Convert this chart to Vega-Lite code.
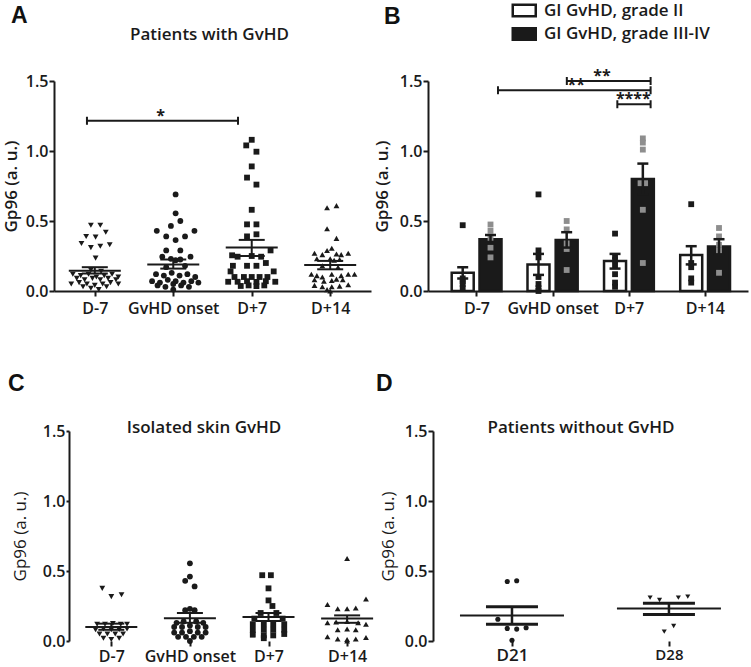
{
"$schema":"https://vega.github.io/schema/vega-lite/v6.json",
"padding":{"left":2,"top":2,"right":0,"bottom":0},
"background":"white",
"spacing":57,
"resolve":{"scale":{"x":"independent","y":"independent","shape":"independent","color":"independent","fill":"independent"}},
"config":{
 "view":{"stroke":null},
 "axis":{"grid":false,"domainColor":"#1a1a1a","domainWidth":2,"tickColor":"#1a1a1a","tickWidth":2,"tickSize":5,"labelFont":"Open Sans","labelFontSize":16,"labelFontWeight":600,"labelColor":"#1a1a1a","labelPadding":1,"labelFlush":false,"labelOverlap":false,"titleFont":"Open Sans","titleFontSize":17,"titleFontWeight":600,"titleColor":"#1a1a1a"},
 "title":{"font":"Liberation Sans","fontSize":23,"fontWeight":"bold","color":"#111111","anchor":"start","frame":"group","baseline":"alphabetic"}
},
"datasets":{
 "pts":[
  {"p":"A","g":0,"x":-0.05,"v":0.47},{"p":"A","g":0,"x":0.07,"v":0.47},{"p":"A","g":0,"x":-0.11,"v":0.39},{"p":"A","g":0,"x":0.01,"v":0.385},{"p":"A","g":0,"x":0.14,"v":0.42},{"p":"A","g":0,"x":-0.17,"v":0.34},{"p":"A","g":0,"x":-0.05,"v":0.31},{"p":"A","g":0,"x":0.07,"v":0.32},{"p":"A","g":0,"x":0.19,"v":0.33},{"p":"A","g":0,"x":0.01,"v":0.235},{"p":"A","g":0,"x":-0.05,"v":0.15},{"p":"A","g":0,"x":0.08,"v":0.14},
  {"p":"A","g":0,"x":-0.28,"v":0.12},{"p":"A","g":0,"x":-0.18,"v":0.11},{"p":"A","g":0,"x":-0.08,"v":0.12},{"p":"A","g":0,"x":0.02,"v":0.10},{"p":"A","g":0,"x":0.12,"v":0.11},{"p":"A","g":0,"x":0.22,"v":0.12},{"p":"A","g":0,"x":0.30,"v":0.10},
  {"p":"A","g":0,"x":-0.23,"v":0.09},{"p":"A","g":0,"x":-0.13,"v":0.08},{"p":"A","g":0,"x":-0.03,"v":0.09},{"p":"A","g":0,"x":0.07,"v":0.08},{"p":"A","g":0,"x":0.17,"v":0.09},{"p":"A","g":0,"x":0.27,"v":0.08},
  {"p":"A","g":0,"x":-0.3,"v":0.05},{"p":"A","g":0,"x":-0.2,"v":0.06},{"p":"A","g":0,"x":-0.1,"v":0.05},{"p":"A","g":0,"x":0,"v":0.04},{"p":"A","g":0,"x":0.1,"v":0.05},{"p":"A","g":0,"x":0.2,"v":0.06},{"p":"A","g":0,"x":0.3,"v":0.05},
  {"p":"A","g":0,"x":-0.15,"v":0.03},{"p":"A","g":0,"x":-0.05,"v":0.02},{"p":"A","g":0,"x":0.05,"v":0.01},{"p":"A","g":0,"x":0.15,"v":0.03},
  {"p":"A","g":1,"x":1.03,"v":0.69},{"p":"A","g":1,"x":1.03,"v":0.555},{"p":"A","g":1,"x":1.09,"v":0.5},{"p":"A","g":1,"x":0.97,"v":0.465},{"p":"A","g":1,"x":0.79,"v":0.43},{"p":"A","g":1,"x":1.27,"v":0.43},{"p":"A","g":1,"x":0.91,"v":0.39},{"p":"A","g":1,"x":1.15,"v":0.39},{"p":"A","g":1,"x":1.03,"v":0.364},{"p":"A","g":1,"x":0.91,"v":0.29},{"p":"A","g":1,"x":1.09,"v":0.29},{"p":"A","g":1,"x":0.86,"v":0.245},{"p":"A","g":1,"x":1.22,"v":0.245},{"p":"A","g":1,"x":0.97,"v":0.23},{"p":"A","g":1,"x":1.03,"v":0.22},{"p":"A","g":1,"x":1.09,"v":0.225},{"p":"A","g":1,"x":0.91,"v":0.17},{"p":"A","g":1,"x":1.15,"v":0.18},
  {"p":"A","g":1,"x":0.78,"v":0.12},{"p":"A","g":1,"x":0.88,"v":0.11},{"p":"A","g":1,"x":0.98,"v":0.13},{"p":"A","g":1,"x":1.08,"v":0.11},{"p":"A","g":1,"x":1.18,"v":0.12},{"p":"A","g":1,"x":1.28,"v":0.10},
  {"p":"A","g":1,"x":0.73,"v":0.07},{"p":"A","g":1,"x":0.83,"v":0.06},{"p":"A","g":1,"x":0.93,"v":0.08},{"p":"A","g":1,"x":1.03,"v":0.07},{"p":"A","g":1,"x":1.13,"v":0.06},{"p":"A","g":1,"x":1.23,"v":0.07},{"p":"A","g":1,"x":1.32,"v":0.06},
  {"p":"A","g":1,"x":0.8,"v":0.04},{"p":"A","g":1,"x":0.9,"v":0.03},{"p":"A","g":1,"x":1.0,"v":0.05},{"p":"A","g":1,"x":1.1,"v":0.04},{"p":"A","g":1,"x":1.2,"v":0.03},{"p":"A","g":1,"x":1.0,"v":0.01},
  {"p":"A","g":2,"x":2.0,"v":1.08},{"p":"A","g":2,"x":1.93,"v":1.04},{"p":"A","g":2,"x":2.06,"v":0.995},{"p":"A","g":2,"x":2.0,"v":0.89},{"p":"A","g":2,"x":1.94,"v":0.81},{"p":"A","g":2,"x":2.06,"v":0.76},{"p":"A","g":2,"x":2.0,"v":0.58},{"p":"A","g":2,"x":1.94,"v":0.476},{"p":"A","g":2,"x":2.06,"v":0.476},{"p":"A","g":2,"x":2.06,"v":0.405},{"p":"A","g":2,"x":1.94,"v":0.39},{"p":"A","g":2,"x":2.24,"v":0.29},{"p":"A","g":2,"x":1.75,"v":0.255},{"p":"A","g":2,"x":1.82,"v":0.245},{"p":"A","g":2,"x":2.0,"v":0.25},{"p":"A","g":2,"x":2.12,"v":0.245},{"p":"A","g":2,"x":1.76,"v":0.18},{"p":"A","g":2,"x":1.94,"v":0.18},{"p":"A","g":2,"x":2.06,"v":0.18},{"p":"A","g":2,"x":2.18,"v":0.2},{"p":"A","g":2,"x":1.73,"v":0.14},{"p":"A","g":2,"x":2.28,"v":0.14},
  {"p":"A","g":2,"x":1.78,"v":0.1},{"p":"A","g":2,"x":1.9,"v":0.1},{"p":"A","g":2,"x":2.0,"v":0.1},{"p":"A","g":2,"x":2.1,"v":0.1},{"p":"A","g":2,"x":2.2,"v":0.1},
  {"p":"A","g":2,"x":1.7,"v":0.066},{"p":"A","g":2,"x":1.82,"v":0.066},{"p":"A","g":2,"x":1.94,"v":0.07},{"p":"A","g":2,"x":2.06,"v":0.065},{"p":"A","g":2,"x":2.18,"v":0.07},{"p":"A","g":2,"x":2.3,"v":0.066},
  {"p":"A","g":2,"x":1.86,"v":0.036},{"p":"A","g":2,"x":1.96,"v":0.04},{"p":"A","g":2,"x":2.06,"v":0.035},{"p":"A","g":2,"x":2.16,"v":0.04},
  {"p":"A","g":3,"x":2.96,"v":0.595},{"p":"A","g":3,"x":3.08,"v":0.61},{"p":"A","g":3,"x":2.96,"v":0.445},{"p":"A","g":3,"x":3.08,"v":0.376},{"p":"A","g":3,"x":3.02,"v":0.305},{"p":"A","g":3,"x":2.96,"v":0.29},
  {"p":"A","g":3,"x":2.8,"v":0.27},{"p":"A","g":3,"x":2.9,"v":0.26},{"p":"A","g":3,"x":3.08,"v":0.265},{"p":"A","g":3,"x":3.14,"v":0.26},{"p":"A","g":3,"x":3.23,"v":0.27},
  {"p":"A","g":3,"x":2.83,"v":0.23},{"p":"A","g":3,"x":3.0,"v":0.23},{"p":"A","g":3,"x":3.05,"v":0.22},{"p":"A","g":3,"x":3.12,"v":0.225},{"p":"A","g":3,"x":2.9,"v":0.18},{"p":"A","g":3,"x":3.1,"v":0.17},
  {"p":"A","g":3,"x":2.76,"v":0.12},{"p":"A","g":3,"x":2.83,"v":0.11},{"p":"A","g":3,"x":2.9,"v":0.1},{"p":"A","g":3,"x":3.02,"v":0.12},{"p":"A","g":3,"x":3.14,"v":0.11},{"p":"A","g":3,"x":3.23,"v":0.12},{"p":"A","g":3,"x":3.31,"v":0.12},
  {"p":"A","g":3,"x":2.8,"v":0.08},{"p":"A","g":3,"x":2.92,"v":0.07},{"p":"A","g":3,"x":3.02,"v":0.075},{"p":"A","g":3,"x":3.08,"v":0.085},{"p":"A","g":3,"x":3.16,"v":0.08},
  {"p":"A","g":3,"x":2.8,"v":0.04},{"p":"A","g":3,"x":2.9,"v":0.03},{"p":"A","g":3,"x":3.02,"v":0.03},{"p":"A","g":3,"x":3.12,"v":0.035},{"p":"A","g":3,"x":3.23,"v":0.045},{"p":"A","g":3,"x":2.96,"v":0.01},{"p":"A","g":3,"x":3.0,"v":0.0},

  {"p":"C","g":0,"x":-0.115,"v":0.376},{"p":"C","g":0,"x":0,"v":0.317},{"p":"C","g":0,"x":0.13,"v":0.33},
  {"p":"C","g":0,"x":-0.18,"v":0.12},{"p":"C","g":0,"x":-0.08,"v":0.12},{"p":"C","g":0,"x":0.02,"v":0.125},{"p":"C","g":0,"x":0.12,"v":0.12},{"p":"C","g":0,"x":0.2,"v":0.12},
  {"p":"C","g":0,"x":-0.2,"v":0.08},{"p":"C","g":0,"x":-0.1,"v":0.085},{"p":"C","g":0,"x":0,"v":0.08},{"p":"C","g":0,"x":0.1,"v":0.08},{"p":"C","g":0,"x":0.2,"v":0.085},
  {"p":"C","g":0,"x":-0.15,"v":0.05},{"p":"C","g":0,"x":-0.05,"v":0.05},{"p":"C","g":0,"x":0.05,"v":0.05},{"p":"C","g":0,"x":0.15,"v":0.05},
  {"p":"C","g":0,"x":-0.1,"v":0.02},{"p":"C","g":0,"x":0,"v":0.01},{"p":"C","g":0,"x":0.1,"v":0.02},
  {"p":"C","g":1,"x":1.0,"v":0.555},{"p":"C","g":1,"x":0.94,"v":0.43},{"p":"C","g":1,"x":1.0,"v":0.46},{"p":"C","g":1,"x":1.06,"v":0.39},{"p":"C","g":1,"x":0.94,"v":0.22},{"p":"C","g":1,"x":1.0,"v":0.23},{"p":"C","g":1,"x":1.06,"v":0.22},
  {"p":"C","g":1,"x":0.83,"v":0.13},{"p":"C","g":1,"x":0.92,"v":0.14},{"p":"C","g":1,"x":1.08,"v":0.14},{"p":"C","g":1,"x":1.17,"v":0.13},
  {"p":"C","g":1,"x":0.8,"v":0.1},{"p":"C","g":1,"x":0.9,"v":0.1},{"p":"C","g":1,"x":1.0,"v":0.11},{"p":"C","g":1,"x":1.1,"v":0.1},{"p":"C","g":1,"x":1.2,"v":0.1},
  {"p":"C","g":1,"x":0.8,"v":0.06},{"p":"C","g":1,"x":0.9,"v":0.06},{"p":"C","g":1,"x":1.0,"v":0.07},{"p":"C","g":1,"x":1.1,"v":0.06},{"p":"C","g":1,"x":1.2,"v":0.06},
  {"p":"C","g":1,"x":0.85,"v":0.03},{"p":"C","g":1,"x":0.95,"v":0.03},{"p":"C","g":1,"x":1.05,"v":0.03},{"p":"C","g":1,"x":1.15,"v":0.03},{"p":"C","g":1,"x":1.0,"v":0.0},
  {"p":"C","g":2,"x":1.92,"v":0.47},{"p":"C","g":2,"x":2.03,"v":0.47},{"p":"C","g":2,"x":2.0,"v":0.376},{"p":"C","g":2,"x":2.0,"v":0.29},{"p":"C","g":2,"x":2.05,"v":0.25},
  {"p":"C","g":2,"x":1.9,"v":0.2},{"p":"C","g":2,"x":2.1,"v":0.2},{"p":"C","g":2,"x":1.82,"v":0.16},{"p":"C","g":2,"x":2.18,"v":0.16},
  {"p":"C","g":2,"x":1.8,"v":0.12},{"p":"C","g":2,"x":1.94,"v":0.12},{"p":"C","g":2,"x":2.06,"v":0.12},{"p":"C","g":2,"x":2.2,"v":0.12},
  {"p":"C","g":2,"x":1.8,"v":0.08},{"p":"C","g":2,"x":1.94,"v":0.08},{"p":"C","g":2,"x":2.06,"v":0.08},{"p":"C","g":2,"x":2.2,"v":0.08},
  {"p":"C","g":2,"x":1.8,"v":0.045},{"p":"C","g":2,"x":1.94,"v":0.04},{"p":"C","g":2,"x":2.06,"v":0.04},{"p":"C","g":2,"x":2.2,"v":0.05},{"p":"C","g":2,"x":1.94,"v":0.02},
  {"p":"C","g":3,"x":3.0,"v":0.59},{"p":"C","g":3,"x":2.75,"v":0.26},{"p":"C","g":3,"x":3.24,"v":0.3},{"p":"C","g":3,"x":2.88,"v":0.23},{"p":"C","g":3,"x":3.0,"v":0.23},{"p":"C","g":3,"x":3.11,"v":0.235},
  {"p":"C","g":3,"x":2.75,"v":0.13},{"p":"C","g":3,"x":2.86,"v":0.135},{"p":"C","g":3,"x":3.0,"v":0.14},{"p":"C","g":3,"x":3.14,"v":0.13},{"p":"C","g":3,"x":3.24,"v":0.12},
  {"p":"C","g":3,"x":2.88,"v":0.08},{"p":"C","g":3,"x":3.0,"v":0.085},{"p":"C","g":3,"x":3.11,"v":0.08},
  {"p":"C","g":3,"x":2.75,"v":0.03},{"p":"C","g":3,"x":2.88,"v":0.015},{"p":"C","g":3,"x":3.0,"v":0.01},{"p":"C","g":3,"x":3.11,"v":0.015},{"p":"C","g":3,"x":3.24,"v":0.025},{"p":"C","g":3,"x":3.0,"v":0.0},

  {"p":"D","g":0,"x":-0.03,"v":0.425},{"p":"D","g":0,"x":0.03,"v":0.43},{"p":"D","g":0,"x":-0.09,"v":0.155},{"p":"D","g":0,"x":-0.03,"v":0.09},{"p":"D","g":0,"x":0.03,"v":0.085},{"p":"D","g":0,"x":0.09,"v":0.095},{"p":"D","g":0,"x":0,"v":0.005},
  {"p":"D","g":1,"x":0.88,"v":0.31},{"p":"D","g":1,"x":0.94,"v":0.293},{"p":"D","g":1,"x":1.06,"v":0.31},{"p":"D","g":1,"x":1.12,"v":0.317},{"p":"D","g":1,"x":0.97,"v":0.067},{"p":"D","g":1,"x":1.03,"v":0.107},

  {"p":"B","s":"GI GvHD, grade II","x":-0.18,"v":0.47},{"p":"B","s":"GI GvHD, grade II","x":-0.18,"v":0.09},{"p":"B","s":"GI GvHD, grade II","x":-0.18,"v":0.07},{"p":"B","s":"GI GvHD, grade II","x":-0.18,"v":0.05},{"p":"B","s":"GI GvHD, grade II","x":-0.18,"v":0.02},
  {"p":"B","s":"GI GvHD, grade III-IV","x":0.185,"v":0.475},{"p":"B","s":"GI GvHD, grade III-IV","x":0.185,"v":0.43},{"p":"B","s":"GI GvHD, grade III-IV","x":0.185,"v":0.38},{"p":"B","s":"GI GvHD, grade III-IV","x":0.185,"v":0.31},{"p":"B","s":"GI GvHD, grade III-IV","x":0.185,"v":0.24},
  {"p":"B","s":"GI GvHD, grade II","x":0.815,"v":0.69},{"p":"B","s":"GI GvHD, grade II","x":0.815,"v":0.29},{"p":"B","s":"GI GvHD, grade II","x":0.815,"v":0.24},{"p":"B","s":"GI GvHD, grade II","x":0.815,"v":0.1},{"p":"B","s":"GI GvHD, grade II","x":0.815,"v":0.05},{"p":"B","s":"GI GvHD, grade II","x":0.815,"v":0.02},{"p":"B","s":"GI GvHD, grade II","x":0.815,"v":0.0},
  {"p":"B","s":"GI GvHD, grade III-IV","x":1.185,"v":0.5},{"p":"B","s":"GI GvHD, grade III-IV","x":1.185,"v":0.44},{"p":"B","s":"GI GvHD, grade III-IV","x":1.185,"v":0.34},{"p":"B","s":"GI GvHD, grade III-IV","x":1.185,"v":0.3},{"p":"B","s":"GI GvHD, grade III-IV","x":1.185,"v":0.15},
  {"p":"B","s":"GI GvHD, grade II","x":1.82,"v":0.41},{"p":"B","s":"GI GvHD, grade II","x":1.82,"v":0.25},{"p":"B","s":"GI GvHD, grade II","x":1.82,"v":0.22},{"p":"B","s":"GI GvHD, grade II","x":1.82,"v":0.18},{"p":"B","s":"GI GvHD, grade II","x":1.82,"v":0.12},{"p":"B","s":"GI GvHD, grade II","x":1.82,"v":0.06},{"p":"B","s":"GI GvHD, grade II","x":1.82,"v":0.03},
  {"p":"B","s":"GI GvHD, grade III-IV","x":2.185,"v":1.09},{"p":"B","s":"GI GvHD, grade III-IV","x":2.185,"v":1.06},{"p":"B","s":"GI GvHD, grade III-IV","x":2.185,"v":1.01},{"p":"B","s":"GI GvHD, grade III-IV","x":2.155,"v":0.77},{"p":"B","s":"GI GvHD, grade III-IV","x":2.215,"v":0.77},{"p":"B","s":"GI GvHD, grade III-IV","x":2.185,"v":0.58},{"p":"B","s":"GI GvHD, grade III-IV","x":2.185,"v":0.2},
  {"p":"B","s":"GI GvHD, grade II","x":2.82,"v":0.62},{"p":"B","s":"GI GvHD, grade II","x":2.82,"v":0.2},{"p":"B","s":"GI GvHD, grade II","x":2.82,"v":0.17},{"p":"B","s":"GI GvHD, grade II","x":2.82,"v":0.09},{"p":"B","s":"GI GvHD, grade II","x":2.82,"v":0.06},
  {"p":"B","s":"GI GvHD, grade III-IV","x":3.185,"v":0.45},{"p":"B","s":"GI GvHD, grade III-IV","x":3.185,"v":0.39},{"p":"B","s":"GI GvHD, grade III-IV","x":3.185,"v":0.33},{"p":"B","s":"GI GvHD, grade III-IV","x":3.185,"v":0.29},{"p":"B","s":"GI GvHD, grade III-IV","x":3.185,"v":0.13}
 ],
 "sum":[
  {"p":"A","c":0,"m":0.145,"lo":0.125,"hi":0.17},{"p":"A","c":1,"m":0.19,"lo":0.16,"hi":0.225},{"p":"A","c":2,"m":0.31,"lo":0.25,"hi":0.365},{"p":"A","c":3,"m":0.185,"lo":0.155,"hi":0.215},
  {"p":"C","c":0,"m":0.1,"lo":0.08,"hi":0.124},{"p":"C","c":1,"m":0.162,"lo":0.13,"hi":0.2},{"p":"C","c":2,"m":0.171,"lo":0.143,"hi":0.2},{"p":"C","c":3,"m":0.16,"lo":0.13,"hi":0.183},
  {"p":"D","c":0,"m":0.183,"lo":0.12,"hi":0.245},{"p":"D","c":1,"m":0.233,"lo":0.19,"hi":0.27},
  {"p":"B","s":"GI GvHD, grade II","c":-0.18,"m":0.13,"lo":0.09,"hi":0.17},{"p":"B","s":"GI GvHD, grade III-IV","c":0.185,"m":0.37,"lo":0.34,"hi":0.40},
  {"p":"B","s":"GI GvHD, grade II","c":0.815,"m":0.19,"lo":0.115,"hi":0.265},{"p":"B","s":"GI GvHD, grade III-IV","c":1.185,"m":0.364,"lo":0.31,"hi":0.42},
  {"p":"B","s":"GI GvHD, grade II","c":1.82,"m":0.214,"lo":0.16,"hi":0.265},{"p":"B","s":"GI GvHD, grade III-IV","c":2.185,"m":0.80,"lo":0.69,"hi":0.91},
  {"p":"B","s":"GI GvHD, grade II","c":2.82,"m":0.257,"lo":0.19,"hi":0.32},{"p":"B","s":"GI GvHD, grade III-IV","c":3.185,"m":0.317,"lo":0.26,"hi":0.37}
 ],
 "brk":[
  {"p":"A","x1":-0.1,"x2":1.825,"y":1.216,"lx":0.84,"lab":"*"},
  {"p":"B","x1":1.187,"x2":2.287,"y":1.5,"lx":1.65,"lab":"**"},
  {"p":"B","x1":0.283,"x2":2.287,"y":1.434,"lx":1.31,"lab":"**"},
  {"p":"B","x1":1.85,"x2":2.287,"y":1.334,"lx":2.06,"lab":"****"}
 ]
},
"vconcat":[
 {"hconcat":[
  {"width":317,"height":210,
   "title":{"text":"A","dx":-43,"offset":-3},
   "resolve":{"axis":{"x":"independent","y":"independent"}},
   "layer":[
    {"data":{"name":"pts"},"transform":[{"filter":"datum.p==='A'"}],
     "mark":{"type":"point","filled":true,"size":34,"opacity":1,"color":"#1a1a1a"},
     "encoding":{
      "x":{"field":"x","type":"quantitative","scale":{"domain":[-0.52,3.52],"nice":false,"zero":false},"axis":{"orient":"bottom","values":[0,1,2,3],"labelExpr":"['D-7','GvHD onset','D+7','D+14'][datum.value]","title":null,"labelPadding":4}},
      "y":{"field":"v","type":"quantitative","scale":{"domain":[0,1.5],"nice":false,"zero":false},"axis":{"orient":"left","values":[0,0.5,1,1.5],"format":".1f","title":"Gp96 (a. u.)","titlePadding":5}},
      "shape":{"field":"g","type":"nominal","scale":{"domain":[0,1,2,3],"range":["triangle-down","circle","square","triangle-up"]},"legend":null}}},
    {"data":{"name":"sum"},"transform":[{"filter":"datum.p==='A'"}],
     "mark":{"type":"rule","color":"#1a1a1a","strokeWidth":2},
     "encoding":{"x":{"field":"c","type":"quantitative","scale":{"domain":[-0.52,3.52],"nice":false,"zero":false},"axis":null},"y":{"field":"lo","type":"quantitative","scale":{"domain":[0,1.5],"nice":false,"zero":false},"axis":null},"y2":{"field":"hi"}}},
    {"data":{"name":"sum"},"transform":[{"filter":"datum.p==='A'"},{"fold":["lo","hi"],"as":["k","e"]}],
     "mark":{"type":"tick","orient":"horizontal","size":26,"thickness":2,"color":"#1a1a1a","opacity":1},
     "encoding":{"x":{"field":"c","type":"quantitative","scale":{"domain":[-0.52,3.52],"nice":false,"zero":false},"axis":null},"y":{"field":"e","type":"quantitative","scale":{"domain":[0,1.5],"nice":false,"zero":false},"axis":null}}},
    {"data":{"name":"sum"},"transform":[{"filter":"datum.p==='A'"}],
     "mark":{"type":"tick","orient":"horizontal","size":52,"thickness":2,"color":"#1a1a1a","opacity":1},
     "encoding":{"x":{"field":"c","type":"quantitative","scale":{"domain":[-0.52,3.52],"nice":false,"zero":false},"axis":{"orient":"top","labels":false,"ticks":false,"domain":false,"title":"Patients with GvHD","titleX":155,"titleY":-42,"titleAlign":"center","titleBaseline":"alphabetic","titleAngle":0}},"y":{"field":"m","type":"quantitative","scale":{"domain":[0,1.5],"nice":false,"zero":false},"axis":null}}},
    {"data":{"name":"brk"},"transform":[{"filter":"datum.p==='A'"}],
     "mark":{"type":"rule","color":"#1a1a1a","strokeWidth":2},
     "encoding":{"x":{"field":"x1","type":"quantitative","scale":{"domain":[-0.52,3.52],"nice":false,"zero":false},"axis":null},"x2":{"field":"x2"},"y":{"field":"y","type":"quantitative","scale":{"domain":[0,1.5],"nice":false,"zero":false},"axis":null}}},
    {"data":{"name":"brk"},"transform":[{"filter":"datum.p==='A'"},{"fold":["x1","x2"],"as":["k","e"]}],
     "mark":{"type":"tick","orient":"vertical","size":8,"thickness":2,"color":"#1a1a1a","opacity":1},
     "encoding":{"x":{"field":"e","type":"quantitative","scale":{"domain":[-0.52,3.52],"nice":false,"zero":false},"axis":null},"y":{"field":"y","type":"quantitative","scale":{"domain":[0,1.5],"nice":false,"zero":false},"axis":null}}},
    {"data":{"name":"brk"},"transform":[{"filter":"datum.p==='A'"}],
     "mark":{"type":"text","font":"Open Sans","fontSize":16,"fontWeight":"bold","baseline":"alphabetic","color":"#1a1a1a"},
     "encoding":{"x":{"field":"lx","type":"quantitative","scale":{"domain":[-0.52,3.52],"nice":false,"zero":false},"axis":null},"y":{"field":"y","type":"quantitative","scale":{"domain":[0,1.5],"nice":false,"zero":false},"axis":null},"text":{"field":"lab"}}}
   ]},
  {"width":320,"height":210,
   "title":{"text":"B","dx":-44,"offset":-27},
   "resolve":{"axis":{"x":"independent","y":"independent"}},
   "layer":[
    {"data":{"name":"sum"},"transform":[{"filter":"datum.p==='B'"}],
     "mark":{"type":"bar","orient":"vertical","size":22,"stroke":"#1a1a1a","strokeWidth":2.5},
     "encoding":{
      "x":{"field":"c","type":"quantitative","scale":{"domain":[-0.57,3.5],"nice":false,"zero":false},"axis":{"orient":"bottom","values":[0,1,2,3],"labelExpr":"['D-7','GvHD onset','D+7','D+14'][datum.value]","title":null,"labelPadding":4}},
      "y":{"field":"m","type":"quantitative","scale":{"domain":[0,1.5],"nice":false,"zero":false},"axis":{"orient":"left","values":[0,0.5,1,1.5],"format":".1f","title":"Gp96 (a. u.)","titlePadding":8}},
      "fill":{"field":"s","type":"nominal","scale":{"domain":["GI GvHD, grade II","GI GvHD, grade III-IV"],"range":["#ffffff","#1a1a1a"]},
        "legend":{"orient":"none","legendX":87.75,"legendY":-79,"title":null,"direction":"vertical","symbolType":"M-2,-1H2V1H-2Z","symbolSize":132.25,"symbolStrokeColor":"#1a1a1a","symbolStrokeWidth":2.5,"labelFont":"Open Sans","labelFontSize":17,"labelFontWeight":600,"labelColor":"#1a1a1a","labelOffset":11.25,"labelLimit":400,"rowPadding":0.5}}}},
    {"data":{"name":"pts"},"transform":[{"filter":"datum.p==='B'"}],
     "mark":{"type":"point","filled":true,"shape":"square","size":34,"opacity":1},
     "encoding":{
      "x":{"field":"x","type":"quantitative","scale":{"domain":[-0.57,3.5],"nice":false,"zero":false},"axis":null},
      "y":{"field":"v","type":"quantitative","scale":{"domain":[0,1.5],"nice":false,"zero":false},"axis":null},
      "color":{"field":"s","type":"nominal","scale":{"domain":["GI GvHD, grade II","GI GvHD, grade III-IV"],"range":["#1a1a1a","#8e8e8e"]},"legend":null}}},
    {"data":{"name":"sum"},"transform":[{"filter":"datum.p==='B'"}],
     "mark":{"type":"rule","color":"#1a1a1a","strokeWidth":2.5},
     "encoding":{"x":{"field":"c","type":"quantitative","scale":{"domain":[-0.57,3.5],"nice":false,"zero":false},"axis":null},"y":{"field":"lo","type":"quantitative","scale":{"domain":[0,1.5],"nice":false,"zero":false},"axis":null},"y2":{"field":"hi"}}},
    {"data":{"name":"sum"},"transform":[{"filter":"datum.p==='B'"},{"fold":["lo","hi"],"as":["k","e"]}],
     "mark":{"type":"tick","orient":"horizontal","size":11,"thickness":2.5,"color":"#1a1a1a","opacity":1},
     "encoding":{"x":{"field":"c","type":"quantitative","scale":{"domain":[-0.57,3.5],"nice":false,"zero":false},"axis":null},"y":{"field":"e","type":"quantitative","scale":{"domain":[0,1.5],"nice":false,"zero":false},"axis":null}}},
    {"data":{"name":"brk"},"transform":[{"filter":"datum.p==='B'"}],
     "mark":{"type":"rule","color":"#1a1a1a","strokeWidth":2},
     "encoding":{"x":{"field":"x1","type":"quantitative","scale":{"domain":[-0.57,3.5],"nice":false,"zero":false},"axis":null},"x2":{"field":"x2"},"y":{"field":"y","type":"quantitative","scale":{"domain":[0,1.5],"nice":false,"zero":false},"axis":null}}},
    {"data":{"name":"brk"},"transform":[{"filter":"datum.p==='B'"},{"fold":["x1","x2"],"as":["k","e"]}],
     "mark":{"type":"tick","orient":"vertical","size":8,"thickness":2,"color":"#1a1a1a","opacity":1},
     "encoding":{"x":{"field":"e","type":"quantitative","scale":{"domain":[-0.57,3.5],"nice":false,"zero":false},"axis":null},"y":{"field":"y","type":"quantitative","scale":{"domain":[0,1.5],"nice":false,"zero":false},"axis":null}}},
    {"data":{"name":"brk"},"transform":[{"filter":"datum.p==='B'"}],
     "mark":{"type":"text","font":"Open Sans","fontSize":16,"fontWeight":"bold","baseline":"alphabetic","color":"#1a1a1a"},
     "encoding":{"x":{"field":"lx","type":"quantitative","scale":{"domain":[-0.57,3.5],"nice":false,"zero":false},"axis":null},"y":{"field":"y","type":"quantitative","scale":{"domain":[0,1.5],"nice":false,"zero":false},"axis":null},"text":{"field":"lab"}}}
   ]}
 ],"spacing":2,"resolve":{"scale":{"x":"independent","y":"independent","shape":"independent","color":"independent","fill":"independent"}}},
 {"hconcat":[
  {"width":320,"height":210,
   "title":{"text":"C","dx":-46,"offset":22},
   "resolve":{"axis":{"x":"independent","y":"independent"}},
   "layer":[
    {"data":{"name":"pts"},"transform":[{"filter":"datum.p==='C'"}],
     "mark":{"type":"point","filled":true,"size":34,"opacity":1,"color":"#1a1a1a"},
     "encoding":{
      "x":{"field":"x","type":"quantitative","scale":{"domain":[-0.729,3.342],"nice":false,"zero":false},"axis":{"orient":"bottom","values":[0,1,2,3],"labelExpr":"['D-7','GvHD onset','D+7','D+14'][datum.value]","title":null,"labelPadding":2,"domain":false}},
      "y":{"field":"v","type":"quantitative","scale":{"domain":[0,1.5],"nice":false,"zero":false},"axis":{"orient":"left","offset":-15,"values":[0,0.5,1,1.5],"format":".1f","title":"Gp96 (a. u.)","titlePadding":13,"titleFontWeight":400,"tickSize":3}},
      "shape":{"field":"g","type":"nominal","scale":{"domain":[0,1,2,3],"range":["triangle-down","circle","square","triangle-up"]},"legend":null}}},
    {"mark":{"type":"rule","color":"#1a1a1a","strokeWidth":2},
     "encoding":{"x":{"datum":-0.54,"type":"quantitative","scale":{"domain":[-0.729,3.342],"nice":false,"zero":false},"axis":null},"x2":{"datum":3.342},"y":{"datum":0,"type":"quantitative","scale":{"domain":[0,1.5],"nice":false,"zero":false},"axis":null}}},
    {"data":{"name":"sum"},"transform":[{"filter":"datum.p==='C'"}],
     "mark":{"type":"rule","color":"#1a1a1a","strokeWidth":2},
     "encoding":{"x":{"field":"c","type":"quantitative","scale":{"domain":[-0.729,3.342],"nice":false,"zero":false},"axis":null},"y":{"field":"lo","type":"quantitative","scale":{"domain":[0,1.5],"nice":false,"zero":false},"axis":null},"y2":{"field":"hi"}}},
    {"data":{"name":"sum"},"transform":[{"filter":"datum.p==='C'"},{"fold":["lo","hi"],"as":["k","e"]}],
     "mark":{"type":"tick","orient":"horizontal","size":26,"thickness":2,"color":"#1a1a1a","opacity":1},
     "encoding":{"x":{"field":"c","type":"quantitative","scale":{"domain":[-0.729,3.342],"nice":false,"zero":false},"axis":null},"y":{"field":"e","type":"quantitative","scale":{"domain":[0,1.5],"nice":false,"zero":false},"axis":null}}},
    {"data":{"name":"sum"},"transform":[{"filter":"datum.p==='C'"}],
     "mark":{"type":"tick","orient":"horizontal","size":52,"thickness":2,"color":"#1a1a1a","opacity":1},
     "encoding":{"x":{"field":"c","type":"quantitative","scale":{"domain":[-0.729,3.342],"nice":false,"zero":false},"axis":{"orient":"top","labels":false,"ticks":false,"domain":false,"title":"Isolated skin GvHD","titleX":149.5,"titleY":1,"titleAlign":"center","titleBaseline":"alphabetic","titleAngle":0}},"y":{"field":"m","type":"quantitative","scale":{"domain":[0,1.5],"nice":false,"zero":false},"axis":null}}}
   ]},
  {"width":329,"height":210,
   "title":{"text":"D","dx":-44,"offset":22},
   "resolve":{"axis":{"x":"independent","y":"independent"}},
   "layer":[
    {"data":{"name":"pts"},"transform":[{"filter":"datum.p==='D'"}],
     "mark":{"type":"point","filled":true,"size":26,"opacity":1,"color":"#1a1a1a"},
     "encoding":{
      "x":{"field":"x","type":"quantitative","scale":{"domain":[-0.586,1.51],"nice":false,"zero":false},"axis":{"orient":"bottom","values":[0,1],"labelExpr":"datum.value==0?'D21':'D28'","title":null,"labelPadding":1,"domain":false,"labelFontSize":{"condition":{"test":"datum.value==0","value":17},"value":15}}},
      "y":{"field":"v","type":"quantitative","scale":{"domain":[0,1.5],"nice":false,"zero":false},"axis":{"orient":"left","offset":-13,"values":[0,0.5,1,1.5],"format":".1f","title":"Gp96 (a. u.)","titlePadding":7,"titleFontWeight":400}},
      "shape":{"field":"g","type":"nominal","scale":{"domain":[0,1],"range":["circle","triangle-down"]},"legend":null}}},
    {"mark":{"type":"rule","color":"#1a1a1a","strokeWidth":2},
     "encoding":{"x":{"datum":-0.503,"type":"quantitative","scale":{"domain":[-0.586,1.51],"nice":false,"zero":false},"axis":null},"x2":{"datum":1.51},"y":{"datum":0,"type":"quantitative","scale":{"domain":[0,1.5],"nice":false,"zero":false},"axis":null}}},
    {"data":{"name":"sum"},"transform":[{"filter":"datum.p==='D'"}],
     "mark":{"type":"rule","color":"#1a1a1a","strokeWidth":2.5},
     "encoding":{"x":{"field":"c","type":"quantitative","scale":{"domain":[-0.586,1.51],"nice":false,"zero":false},"axis":null},"y":{"field":"lo","type":"quantitative","scale":{"domain":[0,1.5],"nice":false,"zero":false},"axis":null},"y2":{"field":"hi"}}},
    {"data":{"name":"sum"},"transform":[{"filter":"datum.p==='D'"},{"fold":["lo","hi"],"as":["k","e"]}],
     "mark":{"type":"tick","orient":"horizontal","size":52,"thickness":3,"color":"#1a1a1a","opacity":1},
     "encoding":{"x":{"field":"c","type":"quantitative","scale":{"domain":[-0.586,1.51],"nice":false,"zero":false},"axis":null},"y":{"field":"e","type":"quantitative","scale":{"domain":[0,1.5],"nice":false,"zero":false},"axis":null}}},
    {"data":{"name":"sum"},"transform":[{"filter":"datum.p==='D'"}],
     "mark":{"type":"tick","orient":"horizontal","size":104,"thickness":2,"color":"#1a1a1a","opacity":1},
     "encoding":{"x":{"field":"c","type":"quantitative","scale":{"domain":[-0.586,1.51],"nice":false,"zero":false},"axis":{"orient":"top","labels":false,"ticks":false,"domain":false,"title":"Patients without GvHD","titleX":160.5,"titleY":1,"titleAlign":"center","titleBaseline":"alphabetic","titleAngle":0}},"y":{"field":"m","type":"quantitative","scale":{"domain":[0,1.5],"nice":false,"zero":false},"axis":null}}}
   ]}
 ],"spacing":2,"resolve":{"scale":{"x":"independent","y":"independent","shape":"independent","color":"independent","fill":"independent"}}}
]
}
